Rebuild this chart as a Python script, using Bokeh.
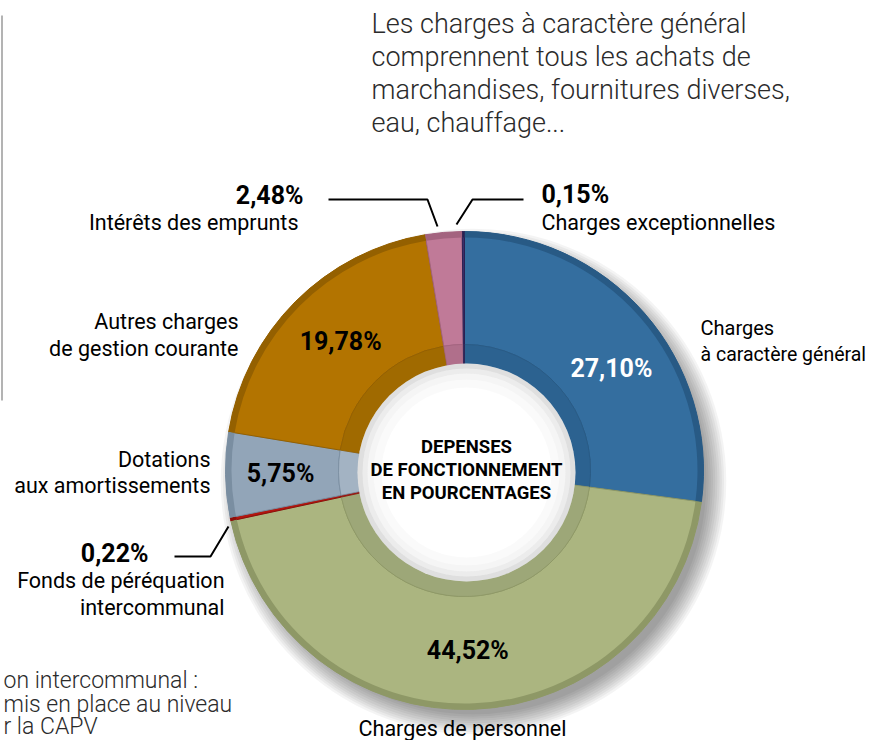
import numpy as np
from bokeh.plotting import figure
from bokeh.models import Range1d, ColumnDataSource
from bokeh.core.properties import value
from bokeh.embed import file_html
from bokeh.resources import INLINE

# ---------------- data ----------------
categories = ["Charges à caractère général", "Charges de personnel",
              "Fonds de péréquation intercommunal", "Dotations aux amortissements",
              "Autres charges de gestion courante", "Intérêts des emprunts",
              "Charges exceptionnelles"]
values = [27.10, 44.52, 0.22, 5.75, 19.78, 2.48, 0.15]
pct_text = ["27,10%", "44,52%", "0,22%", "5,75%", "19,78%", "2,48%", "0,15%"]
face_colors = ["#346e9f", "#abb580", "#b3160f", "#92a5b8", "#b37400", "#c07a98", "#3b2e6b"]
rim_colors = ["#285a85", "#8e9866", "#8e0f0a", "#7a8ea1", "#946000", "#a3637f", "#2b2152"]
wall_colors = ["#2c6290", "#9da778", "#a0130d", "#a3b3c3", "#a06a00", "#b06f8b", "#33285f"]
inner_label_idx = [0, 1, 3, 4]
inner_label_col = ["white", "black", "black", "black"]
inner_label_nudge_x = [10, -4, -2, 5]
inner_label_nudge_y = [-18, 2, 0, 0]

center_lines = ["DEPENSES", "DE FONCTIONNEMENT", "EN POURCENTAGES"]
note_lines = ["Les charges à caractère général", "comprennent tous les achats de",
              "marchandises, fournitures diverses,", "eau, chauffage..."]
bottom_note = ["on intercommunal :", "mis en place au niveau", "r la CAPV"]

# ---------------- layout helpers ----------------
W, H = 878, 740
def Y(s):
    return H - s

cx, cy = 464, Y(470)
R_OUT, R_FACE_IN, R_HOLE = 239, 126, 109
hx, hy = 466, Y(472)

p = figure(width=W, height=H, x_range=Range1d(0, W), y_range=Range1d(0, H),
           output_backend="svg", toolbar_location=None, min_border=0)
p.axis.visible = False
p.grid.visible = False
p.outline_line_color = None
p.background_fill_color = "white"

# shadow
for k in range(10):
    p.circle(x=cx + 9, y=cy - 11, radius=R_OUT - 6 + k * 2.2, fill_color="black",
             fill_alpha=0.045, line_color=None)

vals = np.array(values)
frac = vals / vals.sum()
cum_end = np.cumsum(frac)
cum_start = cum_end - frac
start = np.pi / 2 - 2 * np.pi * cum_end
end = np.pi / 2 - 2 * np.pi * cum_start

src = ColumnDataSource(dict(start=start, end=end, face=face_colors, rim=rim_colors,
                            wall=wall_colors, cat=categories))
# face
p.annular_wedge(x=cx, y=cy, inner_radius=R_FACE_IN, outer_radius=R_OUT,
                start_angle="start", end_angle="end", fill_color="face",
                line_color="rim", line_width=1, source=src)
# outer rim band
p.annular_wedge(x=cx, y=cy, inner_radius=R_OUT - 6, outer_radius=R_OUT,
                start_angle="start", end_angle="end", fill_color="rim",
                line_color=None, source=src)
# inner wall
p.annular_wedge(x=cx, y=cy, inner_radius=R_HOLE - 10, outer_radius=R_FACE_IN,
                start_angle="start", end_angle="end", fill_color="wall",
                line_color="rim", line_width=0.8, source=src)
# hole with soft shading near its edge
p.circle(x=hx, y=hy, radius=R_HOLE, fill_color="white", line_color=None)
for r_in, r_out, a in [(104, 109, 0.22), (99, 104, 0.13), (93, 99, 0.07), (85, 93, 0.035)]:
    p.annulus(x=hx, y=hy, inner_radius=r_in, outer_radius=r_out, fill_color="#6e6e6e",
              fill_alpha=a, line_color=None)

# inner percentage labels (positioned from wedge mid-angles)
mid = (start + end) / 2
r_lab = 182
ix = [cx + r_lab * np.cos(mid[i]) + dx for i, dx in zip(inner_label_idx, inner_label_nudge_x)]
iy = [cy + r_lab * np.sin(mid[i]) + dy for i, dy in zip(inner_label_idx, inner_label_nudge_y)]
p.text(x=ix, y=iy, text=[pct_text[i] for i in inner_label_idx],
       text_color=inner_label_col, text_font=value("Roboto"), text_font_size="25px",
       text_font_style="bold", text_align="center", text_baseline="middle")

# centre title
p.text(x=[466] * 3, y=[Y(446), Y(469), Y(492)], text=center_lines, text_color="black",
       text_font=value("Roboto"), text_font_size="18.5px", text_font_style="bold",
       text_align="center", text_baseline="middle")

# explanatory paragraph
p.text(x=[371] * 4, y=[Y(23), Y(56), Y(89), Y(122)], text=note_lines, text_color="#2b2b2b",
       text_font=value("Roboto Light"), text_font_size="27px",
       text_align="left", text_baseline="middle")

# bottom-left truncated note
p.text(x=[3] * 3, y=[Y(680), Y(704), Y(726)], text=bottom_note, text_color="#2b2b2b",
       text_font=value("Roboto Light"), text_font_size="23px",
       text_align="left", text_baseline="middle")

# left rule
p.line(x=[1.5, 1.5], y=[Y(15), Y(400)], line_color="#9a9a9a", line_width=1.5)

lab_font = value("Roboto")
def lab(x, y, t, align, bold=False, size="21.5px"):
    p.text(x=[x], y=[Y(y)], text=[t], text_color="black", text_font=lab_font,
           text_font_size=size, text_font_style="bold" if bold else "normal",
           text_align=align, text_baseline="middle")

# outer labels
lab(700, 327, "Charges", "left", size="20px")
lab(700, 354, "à caractère général", "left", size="19.5px")
lab(238, 321, "Autres charges", "right")
lab(238, 348, "de gestion courante", "right")
lab(210, 459, "Dotations", "right")
lab(210, 485, "aux amortissements", "right")
lab(462, 728, categories[1], "center")
lab(224, 580, "Fonds de péréquation", "right")
lab(224, 607, "intercommunal", "right")
lab(148, 553, pct_text[2], "right", bold=True, size="25px")
lab(303, 195, pct_text[5], "right", bold=True, size="25px")
lab(298, 222, categories[5], "right")
lab(541, 194, pct_text[6], "left", bold=True, size="25px")
lab(541, 222, categories[6], "left")

# leader lines
p.line(x=[328, 427, 437], y=[Y(199), Y(199), Y(226)], line_color="black", line_width=2)
p.line(x=[523, 472, 456], y=[Y(199), Y(199), Y(224)], line_color="black", line_width=2)
p.line(x=[174, 210, 228], y=[Y(556), Y(556), Y(526)], line_color="black", line_width=2)

open("out.html", "w").write(file_html(p, INLINE))
